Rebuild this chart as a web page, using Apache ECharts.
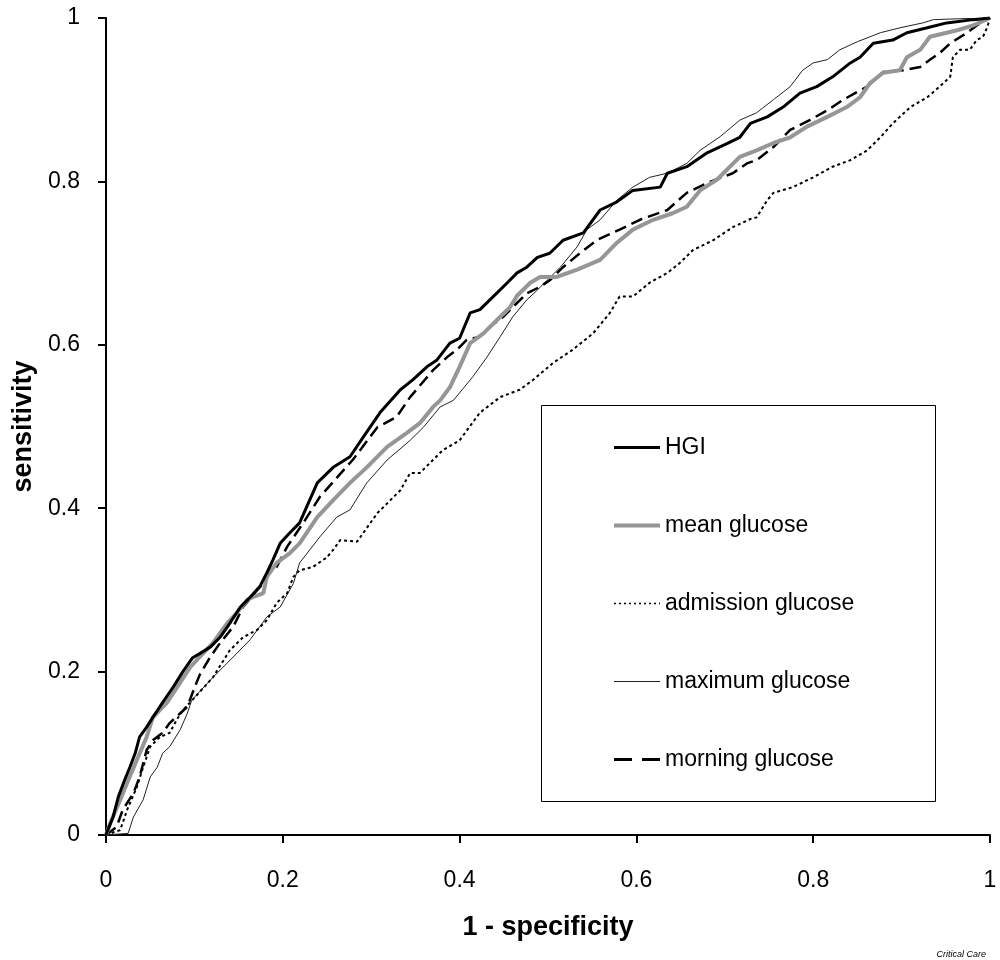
<!DOCTYPE html>
<html>
<head>
<meta charset="utf-8">
<script src="https://cdn.jsdelivr.net/npm/echarts@6/dist/echarts.min.js"></script>
<style>
  html, body { margin: 0; padding: 0; background: #fff; }
  #chart { width: 1000px; height: 960px; }
</style>
</head>
<body>
<div id="chart"></div>
<script>
  // ROC curves, points read as [1 - specificity, sensitivity]
  const hgi = [
    [0, 0], [0.002, 0.006], [0.008, 0.022], [0.014, 0.047], [0.021, 0.067], [0.027, 0.083], [0.033, 0.100],
    [0.038, 0.120], [0.046, 0.132], [0.053, 0.144], [0.064, 0.162], [0.076, 0.181], [0.087, 0.200], [0.098, 0.217],
    [0.106, 0.222], [0.118, 0.230], [0.129, 0.242], [0.140, 0.259], [0.152, 0.279], [0.163, 0.291], [0.174, 0.304],
    [0.182, 0.321], [0.189, 0.337], [0.197, 0.357], [0.208, 0.370], [0.219, 0.382], [0.239, 0.431], [0.257, 0.450],
    [0.276, 0.463], [0.291, 0.487], [0.310, 0.517], [0.333, 0.545], [0.347, 0.557], [0.363, 0.573], [0.374, 0.581],
    [0.389, 0.602], [0.400, 0.608], [0.412, 0.639], [0.423, 0.643], [0.438, 0.659], [0.454, 0.676], [0.465, 0.688],
    [0.476, 0.695], [0.488, 0.707], [0.502, 0.712], [0.517, 0.728], [0.540, 0.737], [0.559, 0.765], [0.578, 0.775],
    [0.596, 0.789], [0.627, 0.793], [0.635, 0.810], [0.657, 0.818], [0.680, 0.835], [0.700, 0.845], [0.717, 0.854],
    [0.729, 0.871], [0.748, 0.879], [0.766, 0.891], [0.785, 0.908], [0.804, 0.916], [0.822, 0.928], [0.842, 0.945],
    [0.853, 0.952], [0.868, 0.969], [0.890, 0.973], [0.906, 0.982], [0.929, 0.988], [0.951, 0.994], [0.981, 0.998],
    [1, 1]
  ];
  const meanGlucose = [
    [0, 0], [0.005, 0.015], [0.016, 0.043], [0.024, 0.064], [0.035, 0.092], [0.046, 0.120], [0.053, 0.144],
    [0.069, 0.162], [0.080, 0.180], [0.095, 0.205], [0.106, 0.218], [0.121, 0.235], [0.137, 0.259], [0.148, 0.272],
    [0.160, 0.288], [0.166, 0.291], [0.178, 0.296], [0.182, 0.316], [0.193, 0.333], [0.208, 0.345], [0.219, 0.357],
    [0.239, 0.389], [0.257, 0.410], [0.276, 0.431], [0.295, 0.450], [0.318, 0.475], [0.340, 0.492], [0.355, 0.504],
    [0.370, 0.524], [0.378, 0.532], [0.389, 0.548], [0.400, 0.573], [0.412, 0.602], [0.427, 0.614], [0.442, 0.630],
    [0.457, 0.646], [0.465, 0.660], [0.480, 0.676], [0.491, 0.683], [0.510, 0.683], [0.533, 0.692], [0.559, 0.704],
    [0.578, 0.725], [0.596, 0.741], [0.619, 0.753], [0.641, 0.761], [0.657, 0.769], [0.672, 0.789], [0.691, 0.802],
    [0.717, 0.830], [0.736, 0.838], [0.755, 0.847], [0.774, 0.854], [0.793, 0.867], [0.816, 0.879], [0.838, 0.891],
    [0.853, 0.903], [0.864, 0.920], [0.879, 0.933], [0.898, 0.936], [0.906, 0.952], [0.921, 0.961], [0.932, 0.977],
    [0.951, 0.982], [0.963, 0.985], [0.981, 0.991], [1, 1]
  ];
  const admissionGlucose = [
    [0, 0], [0.016, 0.006], [0.024, 0.031], [0.035, 0.059], [0.042, 0.083], [0.050, 0.108], [0.061, 0.120],
    [0.072, 0.125], [0.080, 0.141], [0.087, 0.153], [0.095, 0.162], [0.121, 0.193], [0.140, 0.226], [0.155, 0.242],
    [0.171, 0.251], [0.182, 0.263], [0.193, 0.284], [0.205, 0.296], [0.212, 0.316], [0.219, 0.324], [0.234, 0.328],
    [0.250, 0.340], [0.257, 0.349], [0.265, 0.361], [0.284, 0.359], [0.307, 0.394], [0.333, 0.422], [0.344, 0.443],
    [0.355, 0.443], [0.381, 0.471], [0.400, 0.483], [0.423, 0.517], [0.446, 0.536], [0.468, 0.545], [0.483, 0.557],
    [0.506, 0.578], [0.528, 0.594], [0.551, 0.614], [0.570, 0.639], [0.581, 0.659], [0.596, 0.659], [0.615, 0.676],
    [0.635, 0.688], [0.649, 0.700], [0.664, 0.716], [0.687, 0.728], [0.709, 0.744], [0.729, 0.754], [0.736, 0.756],
    [0.748, 0.777], [0.755, 0.786], [0.777, 0.793], [0.800, 0.805], [0.822, 0.818], [0.842, 0.826], [0.861, 0.838],
    [0.876, 0.854], [0.890, 0.871], [0.910, 0.891], [0.929, 0.903], [0.943, 0.916], [0.955, 0.928], [0.958, 0.952],
    [0.966, 0.961], [0.977, 0.961], [0.985, 0.973], [0.992, 0.977], [0.997, 0.989], [1, 1]
  ];
  const maximumGlucose = [
    [0, 0], [0.025, 0.002], [0.031, 0.022], [0.042, 0.043], [0.050, 0.071], [0.058, 0.083], [0.064, 0.100],
    [0.072, 0.108], [0.084, 0.129], [0.092, 0.149], [0.097, 0.165], [0.121, 0.193], [0.144, 0.218], [0.163, 0.239],
    [0.182, 0.267], [0.197, 0.279], [0.212, 0.308], [0.219, 0.333], [0.242, 0.365], [0.261, 0.389], [0.276, 0.398],
    [0.295, 0.431], [0.318, 0.459], [0.344, 0.483], [0.359, 0.499], [0.378, 0.524], [0.393, 0.532], [0.415, 0.561],
    [0.431, 0.585], [0.446, 0.610], [0.460, 0.634], [0.476, 0.655], [0.488, 0.667], [0.499, 0.679], [0.514, 0.695],
    [0.533, 0.720], [0.544, 0.741], [0.559, 0.753], [0.578, 0.777], [0.596, 0.793], [0.615, 0.805], [0.635, 0.810],
    [0.657, 0.822], [0.672, 0.838], [0.695, 0.855], [0.717, 0.875], [0.736, 0.884], [0.755, 0.900], [0.774, 0.916],
    [0.788, 0.936], [0.800, 0.945], [0.816, 0.949], [0.830, 0.961], [0.850, 0.971], [0.876, 0.982], [0.898, 0.988],
    [0.924, 0.994], [0.936, 0.998], [0.963, 0.999], [1, 1]
  ];
  const morningGlucose = [
    [0, 0], [0.012, 0.010], [0.019, 0.031], [0.031, 0.051], [0.038, 0.071], [0.046, 0.104], [0.053, 0.116],
    [0.064, 0.125], [0.072, 0.137], [0.084, 0.149], [0.092, 0.157], [0.100, 0.180], [0.106, 0.196], [0.118, 0.218],
    [0.129, 0.235], [0.144, 0.255], [0.155, 0.279], [0.171, 0.300], [0.178, 0.308], [0.186, 0.324], [0.193, 0.328],
    [0.205, 0.353], [0.225, 0.385], [0.242, 0.414], [0.279, 0.459], [0.307, 0.499], [0.329, 0.512], [0.344, 0.536],
    [0.370, 0.569], [0.386, 0.585], [0.397, 0.594], [0.408, 0.606], [0.423, 0.610], [0.434, 0.622], [0.449, 0.634],
    [0.460, 0.646], [0.476, 0.663], [0.491, 0.671], [0.502, 0.679], [0.517, 0.695], [0.536, 0.712], [0.555, 0.728],
    [0.581, 0.741], [0.604, 0.753], [0.635, 0.765], [0.657, 0.786], [0.680, 0.798], [0.709, 0.810], [0.725, 0.822],
    [0.736, 0.826], [0.755, 0.842], [0.774, 0.863], [0.796, 0.875], [0.816, 0.887], [0.834, 0.900], [0.861, 0.916],
    [0.879, 0.934], [0.902, 0.936], [0.921, 0.940], [0.932, 0.949], [0.943, 0.957], [0.955, 0.969], [0.974, 0.982],
    [0.989, 0.994], [1, 1]
  ];
  const seriesNames = ['HGI', 'mean glucose', 'admission glucose', 'maximum glucose', 'morning glucose'];

  const font = 'Liberation Sans, Arial, Helvetica, sans-serif';
  const chart = echarts.init(document.getElementById('chart'));

  const styles = [
    { color: '#000', width: 3 },
    { color: '#969696', width: 4 },
    { color: '#000', width: 2, type: [3, 3] },
    { color: '#222', width: 1 },
    { color: '#000', width: 2.5, type: [12, 6] }
  ];
  // legend samples are drawn a bit differently from the curves
  const legendStyles = [
    { width: 3 },
    { width: 4 },
    { width: 1.5, type: [2, 3] },
    { width: 1 },
    { width: 3, type: [18, 10] }
  ];

  const axisCommon = {
    type: 'value',
    min: 0,
    max: 1,
    interval: 0.2,
    splitLine: { show: false },
    axisLine: { show: true, lineStyle: { color: '#000', width: 2 } },
    axisTick: { show: true, inside: false, length: 8, lineStyle: { color: '#000', width: 2 } },
    nameLocation: 'middle',
    nameTextStyle: { color: '#000', fontFamily: font, fontWeight: 'bold', fontSize: 27 }
  };

  function lineSeries(name, data, lineStyle, z) {
    return {
      name: name,
      type: 'line',
      data: data,
      symbol: 'none',
      smooth: false,
      z: z,
      lineStyle: lineStyle,
      itemStyle: { color: lineStyle.color },
      emphasis: { disabled: true }
    };
  }

  const option = {
    backgroundColor: '#fff',
    animation: false,
    grid: { left: 106, right: 10, top: 18, bottom: 125 },
    xAxis: Object.assign({}, axisCommon, {
      name: '1 - specificity',
      nameGap: 79,
      axisLabel: { color: '#000', fontFamily: font, fontSize: 23, margin: 34 }
    }),
    yAxis: Object.assign({}, axisCommon, {
      name: 'sensitivity',
      nameGap: 66,
      axisLabel: { color: '#000', fontFamily: font, fontSize: 23, margin: 26 }
    }),
    legend: {
      orient: 'vertical',
      left: 607,
      top: 431,
      itemWidth: 46,
      itemHeight: 14,
      itemGap: 55,
      data: seriesNames.map((n, i) => ({ name: n, lineStyle: legendStyles[i] })),
      itemStyle: { opacity: 0 },
      textStyle: { color: '#000', fontFamily: font, fontSize: 23 },
      selectedMode: false
    },
    graphic: [
      {
        type: 'rect',
        left: 539,
        top: 403,
        shape: { width: 394, height: 396 },
        style: { fill: 'none', stroke: '#000', lineWidth: 1 },
        z: -1
      },
      {
        type: 'text',
        right: 14,
        top: 950,
        style: { text: 'Critical Care', fill: '#000', font: 'italic 9px ' + font }
      }
    ],
    series: [
      lineSeries(seriesNames[0], hgi, styles[0], 6),
      lineSeries(seriesNames[1], meanGlucose, styles[1], 5),
      lineSeries(seriesNames[2], admissionGlucose, styles[2], 3),
      lineSeries(seriesNames[3], maximumGlucose, styles[3], 2),
      lineSeries(seriesNames[4], morningGlucose, styles[4], 4)
    ]
  };
  chart.setOption(option);
</script>
</body>
</html>
